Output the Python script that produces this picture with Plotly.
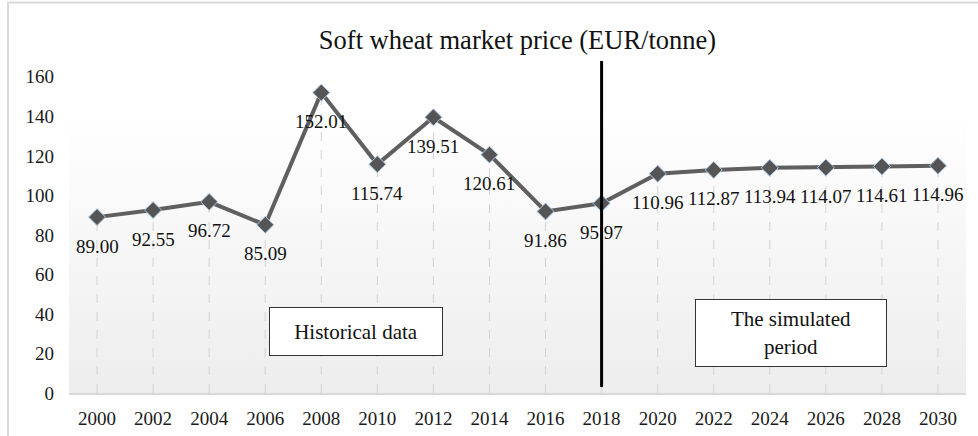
import base64
import plotly.graph_objects as go

years = [2000, 2002, 2004, 2006, 2008, 2010, 2012, 2014,
         2016, 2018, 2020, 2022, 2024, 2026, 2028, 2030]
prices = [89.00, 92.55, 96.72, 85.09, 152.01, 115.74, 139.51, 120.61,
          91.86, 95.97, 110.96, 112.87, 113.94, 114.07, 114.61, 114.96]
y_ticks = [0, 20, 40, 60, 80, 100, 120, 140, 160]
divider_year = 2018
title_text = "Soft wheat market price (EUR/tonne)"
box_historical = "Historical data"
box_simulated = "The simulated<br>period"

FONT = "Liberation Serif, Times New Roman, serif"

# drop lines from each point to the axis
drop_x, drop_y = [], []
for yr, p in zip(years, prices):
    drop_x += [yr, yr, None]
    drop_y += [0, p, None]

fig = go.Figure()
fig.add_trace(go.Scatter(x=drop_x, y=drop_y, mode="lines",
                         line=dict(color="#d3d3d3", width=1, dash="dash"),
                         hoverinfo="skip", showlegend=False))
fig.add_trace(go.Scatter(x=years, y=prices, mode="lines+markers",
                         line=dict(color="#5f5f5f", width=4),
                         marker=dict(symbol="diamond", size=13, color="#555555",
                                     line=dict(color="#a9c8e8", width=1)),
                         showlegend=False))

annotations = []
for yr, p in zip(years, prices):
    annotations.append(dict(x=yr, y=p, text=f"{p:.2f}", showarrow=False,
                            yshift=-29, font=dict(family=FONT, size=19, color="#111111")))

annotations.append(dict(xref="paper", yref="paper", x=0.3194, y=0.1867,
                        xanchor="center", yanchor="middle",
                        text=box_historical, showarrow=False,
                        font=dict(family=FONT, size=21, color="#111111"),
                        bgcolor="white", bordercolor="#333333", borderwidth=1,
                        borderpad=0, width=172, height=47))
annotations.append(dict(xref="paper", yref="paper", x=0.8044, y=0.1822,
                        xanchor="center", yanchor="middle",
                        text=box_simulated, showarrow=False,
                        font=dict(family=FONT, size=21, color="#111111"),
                        bgcolor="white", bordercolor="#333333", borderwidth=1,
                        borderpad=0, width=190, height=66))

svg = ('<svg xmlns="http://www.w3.org/2000/svg" width="100" height="100" '
       'preserveAspectRatio="none"><defs><linearGradient id="g" x1="0" y1="0" '
       'x2="0" y2="1"><stop offset="0" stop-color="#ffffff"/>'
       '<stop offset="0.15" stop-color="#ffffff"/>'
       '<stop offset="1" stop-color="#ededed"/></linearGradient></defs>'
       '<rect width="100" height="100" fill="url(#g)"/></svg>')
src = "data:image/svg+xml;base64," + base64.b64encode(svg.encode()).decode()

fig.update_layout(
    width=978, height=436,
    margin=dict(l=69, r=12, t=61, b=43, autoexpand=False),
    paper_bgcolor="white",
    plot_bgcolor="rgba(0,0,0,0)",
    title=dict(text=title_text, x=0.5, xref="paper", y=0.91, yanchor="middle",
               font=dict(family=FONT, size=26.5, color="#111111")),
    font=dict(family=FONT, size=19, color="#1a1a1a"),
    xaxis=dict(range=[years[0] - 1, years[-1] + 1], tickvals=years,
               showgrid=False, zeroline=False, showline=True,
               linecolor="#d9d9d9", linewidth=2, ticks="",
               ticklabelstandoff=7,
               tickfont=dict(family=FONT, size=19, color="#1a1a1a")),
    yaxis=dict(range=[0, 168], tickvals=y_ticks, showgrid=False,
               zeroline=False, showline=False, ticks="",
               ticklabelstandoff=14,
               tickfont=dict(family=FONT, size=19, color="#1a1a1a")),
    annotations=annotations,
    images=[dict(source=src, xref="paper", yref="paper", x=0, y=1,
                 xanchor="left", yanchor="top", sizex=1, sizey=1,
                 sizing="stretch", layer="below")],
    shapes=[
        dict(type="line", xref="x", yref="y", x0=divider_year, x1=divider_year,
             y0=3, y1=168, line=dict(color="black", width=3)),
        dict(type="rect", xref="paper", yref="paper", x0=-0.068, x1=1.05,
             y0=-0.2, y1=1.176, line=dict(color="#d9d9d9", width=2),
             layer="below"),
    ],
)

fig.write_html("out.html",
               config={"displayModeBar": False},
               post_script="document.body.style.margin='0';"
                           "document.body.style.overflow='hidden';")
